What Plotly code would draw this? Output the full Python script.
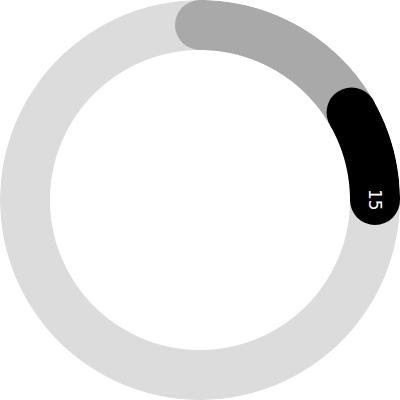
import numpy as np
import plotly.graph_objects as go

# Data
axis_max = 180
series_names = ["A", "B"]
series_values = [30, 15]          # stacked values
series_colors = ["#a9a9a9", "#000000"]
track_color = "#dcdcdc"
label_text = ["", "15"]

R_MID = 0.875   # radial centre of the ring (radial axis 0..1)
RING_PX = 50    # ring thickness in px

def to_deg(v):
    return v * 360.0 / axis_max

fig = go.Figure()

# background track (full circle)
th = np.linspace(0, 360, 721)
fig.add_trace(go.Scatterpolar(r=np.full_like(th, R_MID), theta=th, mode="lines",
                              line=dict(color=track_color, width=RING_PX),
                              hoverinfo="skip", showlegend=False))

start = 0.0
annotations = []
for name, val, col, lab in zip(series_names, series_values, series_colors, label_text):
    a0, a1 = to_deg(start), to_deg(start + val)
    th = np.linspace(a0, a1, 200)
    fig.add_trace(go.Scatterpolar(r=np.full_like(th, R_MID), theta=th, mode="lines",
                                  line=dict(color=col, width=RING_PX),
                                  hoverinfo="skip", showlegend=False, name=name))
    # rounded caps
    fig.add_trace(go.Scatterpolar(r=[R_MID, R_MID], theta=[a0, a1], mode="markers",
                                  marker=dict(color=col, size=RING_PX, line=dict(width=0)),
                                  hoverinfo="skip", showlegend=False))
    if lab:
        ang = np.deg2rad(a1)
        annotations.append(dict(
            x=0.5 + 0.5 * R_MID * np.sin(ang), y=0.5 + 0.5 * R_MID * np.cos(ang),
            xref="paper", yref="paper", text=lab, showarrow=False, textangle=90,
            xanchor="center", yanchor="middle",
            font=dict(family="DejaVu Sans", size=17, color="#ffffff")))
    start += val

fig.update_layout(
    width=400, height=400, margin=dict(l=0, r=0, t=0, b=0),
    paper_bgcolor="white", plot_bgcolor="white",
    polar=dict(
        domain=dict(x=[0, 1], y=[0, 1]),
        bgcolor="white",
        radialaxis=dict(range=[0, 1], visible=False),
        angularaxis=dict(rotation=90, direction="clockwise", visible=False),
    ),
    annotations=annotations,
    showlegend=False,
)

fig.write_html("out.html", config={"displayModeBar": False},
               post_script="document.body.style.margin='0';document.body.style.overflow='hidden';")
